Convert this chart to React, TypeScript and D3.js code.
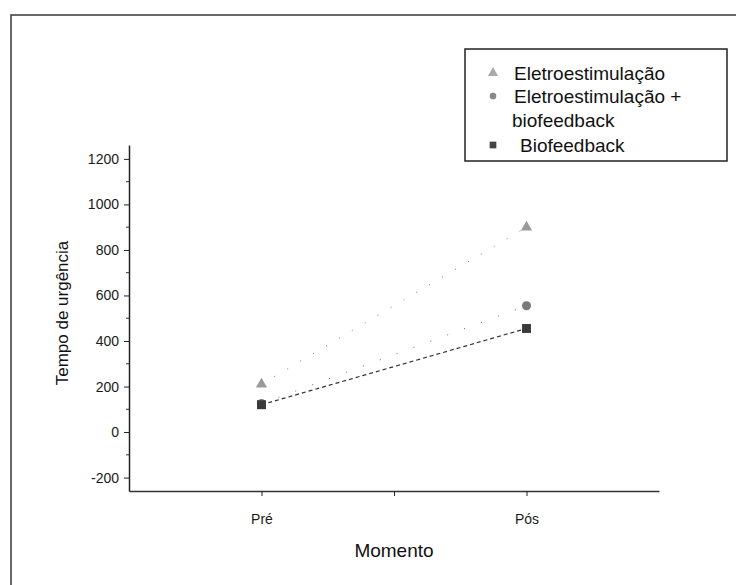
import React, { useEffect, useRef } from "react";
import * as d3 from "d3";

// values
const moments = ["Pré", "Pós"];
const eletro = [210, 900];
const eletroBio = [125, 555];
const bio = [120, 455];
const yTicks = [-200, 0, 200, 400, 600, 800, 1000, 1200];
const yMinor = [-100, 100, 300, 500, 700, 900, 1100];
const legendLabels = ["Eletroestimulação", "Eletroestimulação +", "biofeedback", "Biofeedback"];

const App = () => {
  const svgRef = useRef<SVGSVGElement | null>(null);

  useEffect(() => {
    const width = 736;
    const height = 585;
    const font = "'Liberation Sans', Arial, sans-serif";

    const svg = d3.select(svgRef.current).attr("width", width).attr("height", height);
    svg.selectAll("*").remove();

    svg.append("rect").attr("width", width).attr("height", height).attr("fill", "#fff");

    // outer frame of the scan
    svg
      .append("rect")
      .attr("x", 11)
      .attr("y", 15)
      .attr("width", width + 20)
      .attr("height", height + 20)
      .attr("fill", "none")
      .attr("stroke", "#444")
      .attr("stroke-width", 1.6);

    const x = d3.scaleLinear().domain([0.5, 2.5]).range([129, 659]);
    const y = d3.scaleLinear().domain([-259, 1261]).range([491, 145]);

    // y axis
    const yAxis = svg.append("g").attr("transform", "translate(129,0)");
    yAxis
      .call(
        d3
          .axisLeft(y)
          .tickValues(yTicks)
          .tickSize(5)
          .tickSizeOuter(0)
          .tickPadding(5)
          .tickFormat((d) => String(d))
      )
      .call((g) => g.select(".domain").attr("stroke", "#222").attr("stroke-width", 1.5))
      .call((g) => g.selectAll(".tick line").attr("stroke", "#222"))
      .selectAll("text")
      .style("font-family", font)
      .style("font-size", "14px")
      .attr("fill", "#1a1a1a");
    yAxis
      .append("g")
      .selectAll("line")
      .data(yMinor)
      .enter()
      .append("line")
      .attr("x1", -3)
      .attr("x2", 0)
      .attr("y1", (d) => y(d))
      .attr("y2", (d) => y(d))
      .attr("stroke", "#333");

    // x axis
    svg
      .append("g")
      .attr("transform", "translate(0,491)")
      .call(
        d3
          .axisBottom(x)
          .tickValues([1, 1.5, 2])
          .tickSize(5)
          .tickSizeOuter(0)
          .tickPadding(18)
          .tickFormat((d) => (d === 1 ? moments[0] : d === 2 ? moments[1] : ""))
      )
      .call((g) => g.select(".domain").attr("stroke", "#333").attr("stroke-width", 1.4))
      .call((g) => g.selectAll(".tick line").attr("stroke", "#222"))
      .selectAll("text")
      .style("font-family", font)
      .style("font-size", "14px")
      .attr("fill", "#1a1a1a");

    svg
      .append("text")
      .attr("x", x(1.5))
      .attr("y", 557)
      .attr("text-anchor", "middle")
      .style("font-family", font)
      .style("font-size", "19px")
      .attr("fill", "#111")
      .text("Momento");

    svg
      .append("text")
      .attr("transform", "translate(68,313) rotate(-90)")
      .attr("text-anchor", "middle")
      .style("font-family", font)
      .style("font-size", "17px")
      .attr("fill", "#111")
      .text("Tempo de urgência");

    const line = d3
      .line<number>()
      .x((d, i) => x(i + 1))
      .y((d) => y(d));

    svg
      .append("path")
      .datum(eletro)
      .attr("d", line)
      .attr("fill", "none")
      .attr("stroke", "#777")
      .attr("stroke-width", 1)
      .attr("stroke-dasharray", "1 14");
    svg
      .append("path")
      .datum(eletroBio)
      .attr("d", line)
      .attr("fill", "none")
      .attr("stroke", "#666")
      .attr("stroke-width", 1)
      .attr("stroke-dasharray", "1 17");
    svg
      .append("path")
      .datum(bio)
      .attr("d", line)
      .attr("fill", "none")
      .attr("stroke", "#333")
      .attr("stroke-width", 1.2)
      .attr("stroke-dasharray", "4 3");

    const tri = d3.symbol().type(d3.symbolTriangle).size(55);
    const circ = d3.symbol().type(d3.symbolCircle).size(65);
    const sq = d3.symbol().type(d3.symbolSquare).size(80);

    const marks = [
      { data: eletro, sym: tri, fill: "#9a9a9a" },
      { data: eletroBio, sym: circ, fill: "#7a7a7a" },
      { data: bio, sym: sq, fill: "#3a3a3a" },
    ];
    marks.forEach((m) => {
      svg
        .append("g")
        .selectAll("path")
        .data(m.data)
        .enter()
        .append("path")
        .attr("d", m.sym())
        .attr("transform", (d, i) => `translate(${x(i + 1)},${y(d)})`)
        .attr("fill", m.fill);
    });

    // legend
    const legend = svg.append("g");
    legend
      .append("rect")
      .attr("x", 465)
      .attr("y", 49)
      .attr("width", 262)
      .attr("height", 112)
      .attr("fill", "#fff")
      .attr("stroke", "#222")
      .attr("stroke-width", 1.5);
    const rows = [73, 96, 120, 145];
    const textX = [514, 514, 512, 520];
    legendLabels.forEach((t, i) => {
      legend
        .append("text")
        .attr("x", textX[i])
        .attr("y", rows[i] + 7)
        .style("font-family", font)
        .style("font-size", "19px")
        .attr("fill", "#111")
        .text(t);
    });
    legend
      .append("path")
      .attr("d", d3.symbol().type(d3.symbolTriangle).size(45)())
      .attr("transform", `translate(493,${rows[0]})`)
      .attr("fill", "#aaa");
    legend
      .append("path")
      .attr("d", d3.symbol().type(d3.symbolCircle).size(35)())
      .attr("transform", `translate(493,${rows[1]})`)
      .attr("fill", "#888");
    legend
      .append("path")
      .attr("d", d3.symbol().type(d3.symbolSquare).size(45)())
      .attr("transform", `translate(493,${rows[3]})`)
      .attr("fill", "#444");
  }, []);

  return (
    <div style={{ position: "absolute", left: 0, top: 0 }}>
      <svg ref={svgRef}></svg>
    </div>
  );
};

export default App;
